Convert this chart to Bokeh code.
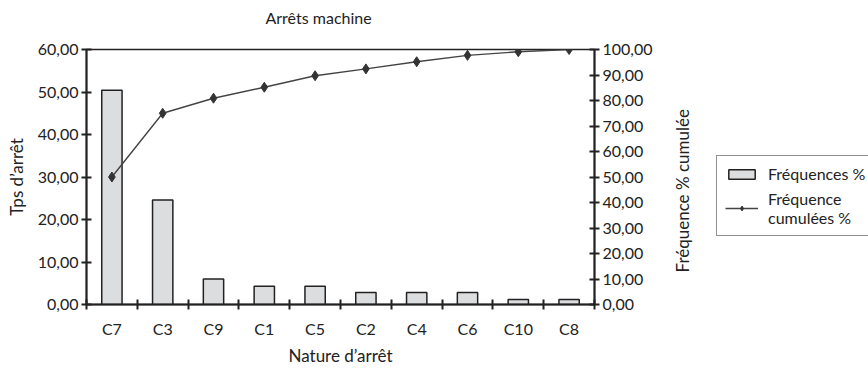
from bokeh.plotting import figure
from bokeh.layouts import row
from bokeh.models import (Range1d, LinearAxis, FixedTicker, Legend, LegendItem,
                          ColumnDataSource, Title)
from bokeh.embed import file_html
from bokeh.resources import INLINE

categories = ["C7", "C3", "C9", "C1", "C5", "C2", "C4", "C6", "C10", "C8"]
frequences = [50.4, 24.6, 6.0, 4.3, 4.3, 2.8, 2.8, 2.8, 1.2, 1.2]
cumulees = [50.0, 75.0, 80.9, 85.2, 89.7, 92.4, 95.2, 97.7, 99.1, 100.0]
left_ticks = [0, 10, 20, 30, 40, 50, 60]
right_ticks = [0, 10, 20, 30, 40, 50, 60, 70, 80, 90, 100]

FONT = "Lato"
AX = "#222222"
BAR_FILL = "#dcdddf"

xs = [i + 0.5 for i in range(len(categories))]
src = ColumnDataSource(dict(x=xs, freq=frequences, cum=cumulees))

p = figure(width=660, height=368, output_backend="svg", toolbar_location=None,
           x_range=Range1d(0, len(categories)), y_range=Range1d(0, 60),
           min_border_left=86, min_border_right=66, min_border_top=49,
           min_border_bottom=58, background_fill_color="white",
           border_fill_color="white", outline_line_color=AX, outline_line_width=1.5)
p.title = Title(text="Arrêts machine\n ", text_font=FONT, text_font_size="16px",
                text_font_style="normal", text_color="#222", align="left", offset=179,
                standoff=8)
p.grid.visible = False

p.extra_y_ranges = {"cum": Range1d(0, 100)}

def fmt(v):
    return f"{v:.2f}".replace(".", ",")

xa = p.xaxis[0]
xa.ticker = FixedTicker(ticks=xs, minor_ticks=list(range(len(categories) + 1)))
xa.major_label_overrides = {x: c for x, c in zip(xs, categories)}
xa.major_tick_line_color = None
xa.minor_tick_line_color = AX
xa.minor_tick_line_width = 2
xa.minor_tick_in = 5
xa.minor_tick_out = 5
xa.axis_label = "Nature d’arrêt"

ya = p.yaxis[0]
ya.ticker = FixedTicker(ticks=left_ticks, minor_ticks=[])
ya.major_label_overrides = {t: fmt(t) for t in left_ticks}
ya.axis_label = "Tps d’arrêt"

yr = LinearAxis(y_range_name="cum")
yr.ticker = FixedTicker(ticks=right_ticks, minor_ticks=[])
yr.major_label_overrides = {t: fmt(t) for t in right_ticks}
p.add_layout(yr, "right")

for ax in [xa, ya, yr]:
    ax.axis_line_color = AX
    ax.axis_line_width = 2
    ax.major_label_text_font = FONT
    ax.major_label_text_font_size = "16px"
    ax.major_label_text_color = "#222"
    ax.axis_label_text_font = FONT
    ax.axis_label_text_font_size = "17px"
    ax.axis_label_text_font_style = "normal"
    ax.axis_label_text_color = "#222"
for ax in [ya, yr]:
    ax.major_tick_line_color = AX
    ax.major_tick_line_width = 2
    ax.major_tick_in = 5
    ax.major_tick_out = 5
    ax.major_label_standoff = 3
    ax.axis_label_standoff = 8
xa.major_label_standoff = 8
xa.axis_label_standoff = 4

p.vbar(x="x", top="freq", width=0.4, bottom=0, source=src,
       fill_color=BAR_FILL, line_color=AX, line_width=1.5)
p.line(x="x", y="cum", source=src, y_range_name="cum", line_color="#444", line_width=1.4)
p.scatter(x="x", y="cum", source=src, y_range_name="cum", marker="diamond",
          size=10, fill_color="#333", line_color="#333")

# side panel: right-axis title + legend (its renderers are hidden, only the legend shows)
lg = figure(width=208, height=368, output_backend="svg", toolbar_location=None,
            min_border_left=40, min_border_right=0, min_border_top=49,
            min_border_bottom=58, outline_line_color=None,
            x_axis_location=None, y_axis_location=None,
            x_range=Range1d(1000, 1001), y_range=Range1d(1000, 1001))
lg.grid.visible = False
lg.add_layout(Title(text="Fréquence % cumulée", text_font=FONT, text_font_size="17px",
                    text_font_style="normal", text_color="#222", align="left",
                    offset=32, standoff=16), "left")
lb = lg.vbar(x="x", top="freq", width=0.4, source=src, fill_color=BAR_FILL,
             line_color=AX, line_width=1.5, visible=False)
ll = lg.line(x="x", y="cum", source=src, line_color="#444", line_width=1.4,
             visible=False)
lp = lg.scatter(x="x", y="cum", source=src, marker="diamond", size=10,
                fill_color="#333", line_color="#333", visible=False)
legend = Legend(items=[LegendItem(label="Fréquences %", renderers=[lb]),
                       LegendItem(label="Fréquence\ncumulées %", renderers=[ll, lp])],
                location=(16, 68), label_text_font=FONT, label_text_font_size="16px",
                label_text_color="#222", border_line_color=AX, border_line_width=1.5,
                glyph_width=33, glyph_height=12, spacing=6, padding=8, margin=0,
                label_standoff=10, background_fill_alpha=1, click_policy="none")
lg.add_layout(legend, "center")

open("out.html", "w").write(file_html(row(p, lg, spacing=0), INLINE))
